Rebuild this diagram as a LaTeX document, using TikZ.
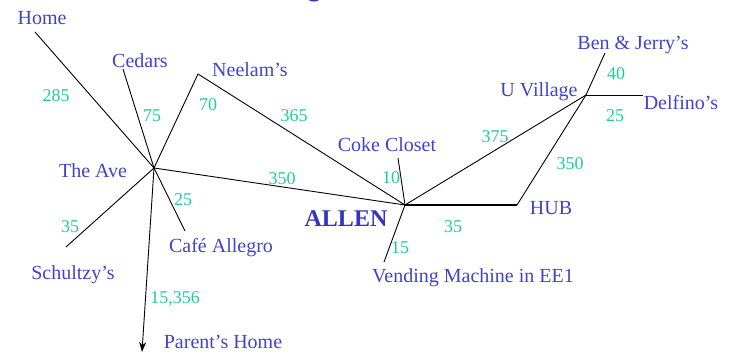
\documentclass[tikz,border=0pt]{standalone}
\usepackage{fontspec}
\setmainfont{Liberation Serif}
\usetikzlibrary{arrows.meta}
\definecolor{placeblue}{RGB}{66,66,206}
\definecolor{allenblue}{RGB}{52,52,196}
\definecolor{distgreen}{RGB}{30,206,150}
\tikzset{
  place/.style={text=placeblue, font=\fontsize{20}{22}\selectfont, inner sep=0pt},
  dist/.style={text=distgreen, font=\fontsize{18}{20}\selectfont, inner sep=0pt},
  road/.style={draw=black, line width=0.9pt},
  mainroad/.style={draw=black, line width=2.4pt},
}
\begin{document}
\begin{tikzpicture}[x=1pt,y=-1pt]
\useasboundingbox (0,0) rectangle (731,352);
% title glyph cut by the top edge
\begin{scope}
  \clip (0,0) rectangle (731,352);
  \node[anchor=base west, text=allenblue, inner sep=0pt,
        font=\fontsize{40}{44}\selectfont\bfseries] (title) at (289,-4) {Q};
\end{scope}

% junctions and road ends
\coordinate (ave) at (154,168);
\coordinate (allen) at (405,205);
\coordinate (uvil) at (586,95);
\coordinate (hub) at (517,205);
\coordinate (neelam) at (198,74);
\coordinate (homeEnd) at (35,32);
\coordinate (cedarsEnd) at (123,69);
\coordinate (schultzEnd) at (66,247);
\coordinate (cafeEnd) at (185,231);
\coordinate (parentEnd) at (142,352);
\coordinate (cokeEnd) at (398,158);
\coordinate (vendEnd) at (384,262);
\coordinate (benEnd) at (605,53);
\coordinate (delfEnd) at (643,95);

% roads
\draw[road] (homeEnd) -- (ave);
\draw[road] (cedarsEnd) -- (ave);
\draw[road] (ave) -- (neelam) -- (allen);
\draw[road] (ave) -- (schultzEnd);
\draw[road] (ave) -- (cafeEnd);
\draw[road, -{Stealth[length=10pt,width=7pt]}] (ave) -- (parentEnd);
\draw[road] (ave) -- (allen);
\draw[road] (cokeEnd) -- (allen);
\draw[road] (allen) -- (vendEnd);
\draw[road] (allen) -- (uvil);
\draw[mainroad] (allen) -- (hub);
\draw[road] (hub) -- (uvil);
\draw[road] (benEnd) -- (uvil);
\draw[road] (uvil) -- (delfEnd);

% place names
\node[place] (lHome) at (42,18) {Home};
\node[place] (lCedars) at (140,61) {Cedars};
\node[place] (lNeelam) at (250,70) {Neelam’s};
\node[place] (lAve) at (93,171) {The Ave};
\node[place] (lSchultz) at (73,275) {Schultzy’s};
\node[place] (lCafe) at (221,248) {Café Allegro};
\node[place] (lParent) at (223,342) {Parent’s Home};
\node[place] (lCoke) at (387,145) {Coke Closet};
\node[text=allenblue, inner sep=0pt, font=\fontsize{24}{26}\selectfont\bfseries] (lAllen) at (346,219) {ALLEN};
\node[place] (lVend) at (473,278) {Vending Machine in EE1};
\node[place] (lHub) at (551,208) {HUB};
\node[place] (lUvil) at (539,92) {U Village};
\node[place] (lBen) at (633,45) {Ben \& Jerry’s};
\node[place] (lDelf) at (681,103) {Delfino’s};

% distances
\node[dist] (d1) at (56,96) {285};
\node[dist] (d2) at (152,116) {75};
\node[dist] (d3) at (208,105) {70};
\node[dist] (d4) at (294,116) {365};
\node[dist] (d5) at (282,179) {350};
\node[dist] (d6) at (183,200) {25};
\node[dist] (d7) at (70,227) {35};
\node[dist] (d8) at (175,299) {15,356};
\node[dist] (d9) at (391,178) {10};
\node[dist] (d10) at (400,248) {15};
\node[dist] (d11) at (453,227) {35};
\node[dist] (d12) at (495,137) {375};
\node[dist] (d13) at (570,164) {350};
\node[dist] (d14) at (616,74) {40};
\node[dist] (d15) at (615,116) {25};
\end{tikzpicture}
\end{document}
